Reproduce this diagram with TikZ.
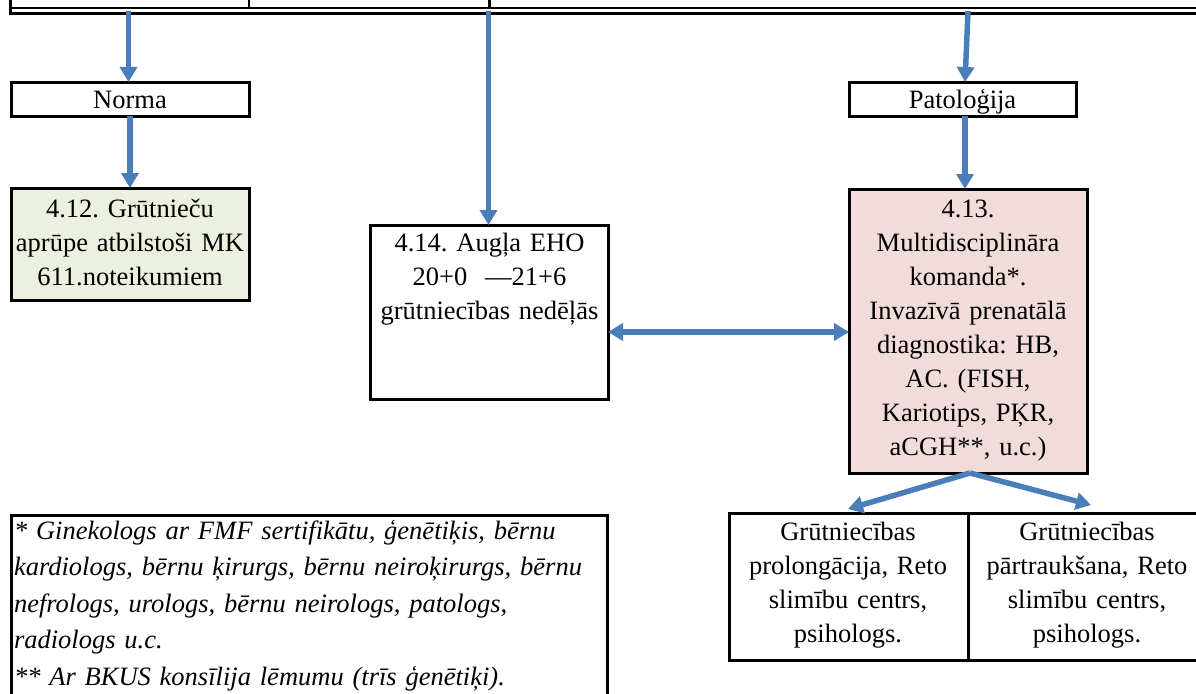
\documentclass[tikz,border=0pt]{standalone}
\usepackage{fontspec}
\setmainfont{Liberation Serif}
\usetikzlibrary{arrows.meta}
\definecolor{arrblue}{RGB}{74,126,187}
\definecolor{greenfill}{RGB}{235,241,222}
\definecolor{pinkfill}{RGB}{242,220,219}
\frenchspacing
\begin{document}
\frenchspacing
\begin{tikzpicture}[x=1pt,y=-1pt,
  box/.style={draw=black, line width=3pt, inner sep=0pt, outer sep=0pt},
  txt/.style={inner sep=0pt, outer sep=0pt, align=center, anchor=base, text width=236pt,
    font=\fontsize{26.5}{34}\selectfont},
  foot/.style={inner sep=0pt, outer sep=0pt, align=left, anchor=base west, text width=590pt,
    font=\fontsize{26.5}{36.5}\selectfont\itshape},
  tblline/.style={draw=black, line width=2.6pt},
  arr/.style={draw=arrblue, line width=5.5pt, -{Triangle[width=17pt,length=15pt]}},
  darr/.style={draw=arrblue, line width=5.5pt, {Triangle[width=17pt,length=15pt]}-{Triangle[width=17pt,length=15pt]}}]
\useasboundingbox (0,0) rectangle (1196,693);
\clip (0,0) rectangle (1196,693);

% top table fragment
\draw[tblline] (10.5,-5) -- (10.5,14.8);
\draw[tblline] (9.2,8.2) -- (1200,8.2);
\draw[tblline] (9.2,13.6) -- (1200,13.6);
\draw[tblline] (249,-5) -- (249,8.2);
\draw[tblline] (489.5,-5) -- (489.5,8.2);
\coordinate (t1) at (128.5,11);
\coordinate (t2) at (488.5,11);
\coordinate (t3) at (968,11);

% boxes
\node[box, minimum width=238pt, minimum height=34pt] (norma) at (130,99) {};
\node[box, minimum width=227pt, minimum height=34pt] (pato) at (962.5,99) {};
\node[box, fill=greenfill, minimum width=238pt, minimum height=112pt] (b412) at (130,244) {};
\node[box, minimum width=238pt, minimum height=174pt] (b414) at (489,312) {};
\node[box, fill=pinkfill, minimum width=238pt, minimum height=284pt] (b413) at (968,331) {};
\node[box, minimum width=596pt, minimum height=205pt] (fn) at (309,617.5) {};
\node[box, minimum width=239pt, minimum height=147pt] (bl) at (848.5,586.5) {};
\node[box, minimum width=242pt, minimum height=147pt] (br) at (1089,586.5) {};

% texts
\node[txt] (tnorma) at (130,108) {Norma};
\node[txt] (tpato) at (962.5,108) {Patoloģija};
\node[txt] (t412) at (130,217) {4.12. Grūtnieču\\ aprūpe atbilstoši MK\\ 611.noteikumiem};
\node[txt] (t414) at (489.5,251) {4.14. Augļa EHO\\ 20+0\ \ —21+6\\ grūtniecības nedēļās};
\node[txt] (t413) at (968,217) {4.13.\\ Multidisciplināra\\ komanda*.\\ Invazīvā prenatālā\\ diagnostika: HB,\\ AC. (FISH,\\ Kariotips, PĶR,\\ aCGH**, u.c.)};
\node[txt] (tleft) at (848,540) {Grūtniecības\\ prolongācija, Reto\\ slimību centrs,\\ psihologs.};
\node[txt] (tright) at (1087,540) {Grūtniecības\\ pārtraukšana, Reto\\ slimību centrs,\\ psihologs.};
\node[foot] (tfn) at (14,539) {* Ginekologs ar FMF sertifikātu, ģenētiķis, bērnu\\ kardiologs, bērnu ķirurgs, bērnu neiroķirurgs, bērnu\\ nefrologs, urologs, bērnu neirologs, patologs,\\ radiologs u.c.\\ {**} Ar BKUS konsīlija lēmumu (trīs ģenētiķi).};

% connectors
\draw[arr] (t1) -- (t1 |- norma.north);
\draw[arr] (t2) -- (t2 |- b414.north);
\coordinate (p3) at ([xshift=2.5pt]pato.north);
\draw[arr] (t3) -- (p3);
\coordinate (p4) at ([xshift=2.5pt]pato.south);
\draw[arr] (p4) -- (p4 |- b413.north);
\draw[arr] (norma.south) -- (b412.north);
\coordinate (dy) at (0,332);
\draw[darr] (b414.east |- dy) -- (b413.west |- dy);
\coordinate (apex) at (970,473);
\coordinate (lt) at (848,509);
\coordinate (rt) at (1091,505);
\draw[arr] (apex) -- (lt);
\draw[arr] (apex) -- (rt);
\end{tikzpicture}
\end{document}
